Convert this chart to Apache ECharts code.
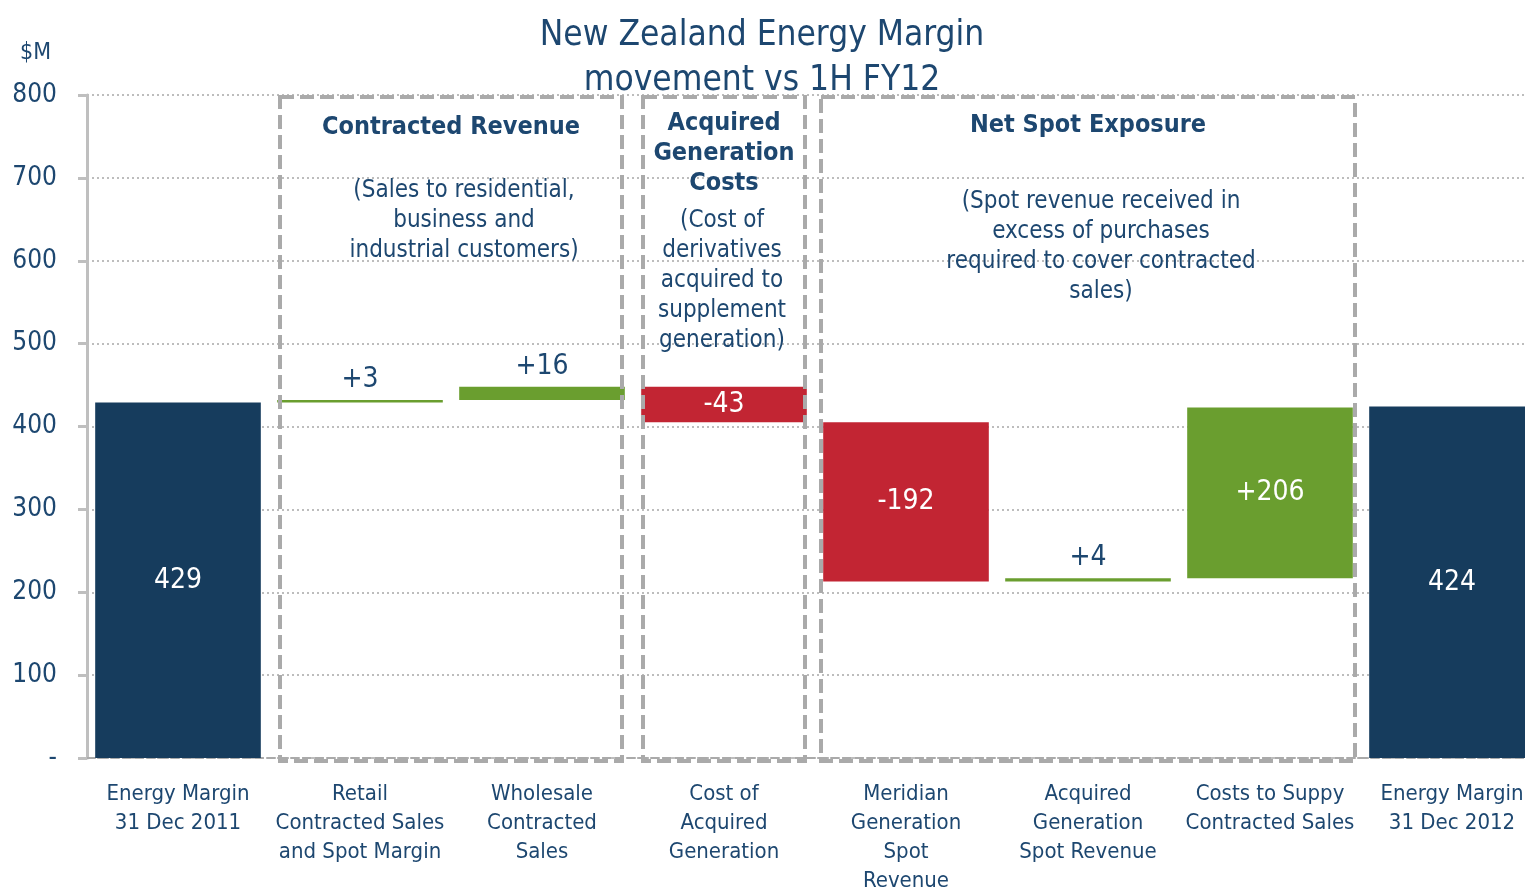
<!DOCTYPE html>
<html>
<head>
<meta charset="utf-8">
<script src="https://cdn.jsdelivr.net/npm/echarts@6/dist/echarts.min.js"></script>
<style>
  html, body { margin: 0; padding: 0; background: #fff; }
  #chart { width: 1525px; height: 892px; }
</style>
</head>
<body>
<div id="chart"></div>
<script>
// data
var categories = [
  'Energy Margin\n31 Dec 2011',
  'Retail\nContracted Sales\nand Spot Margin',
  'Wholesale\nContracted\nSales',
  'Cost of\nAcquired\nGeneration',
  'Meridian\nGeneration\nSpot\nRevenue',
  'Acquired\nGeneration\nSpot Revenue',
  'Costs to Suppy\nContracted Sales',
  'Energy Margin\n31 Dec 2012'
]
var deltas = [429, 3, 16, -43, -192, 4, 206, 424]
var isTotal = [true, false, false, false, false, false, false, true]
var barLabels = ['429', '+3', '+16', '-43', '-192', '+4', '+206', '424']

var font = '"Liberation Sans Narrow", "DejaVu Sans Condensed", sans-serif'
var navy = '#163c5d'
var textNavy = '#1d4770'
var green = '#6a9e2f'
var red = '#c22533'
var boxGrey = '#aaaaaa'

// waterfall: base (invisible) + visible height
var base = [], heights = [], running = 0
for (var i = 0; i < deltas.length; i++) {
  if (isTotal[i]) {
    base.push(0); heights.push(deltas[i]); running = deltas[i]
  } else if (deltas[i] >= 0) {
    base.push(running); heights.push(deltas[i]); running += deltas[i]
  } else {
    running += deltas[i]; base.push(running); heights.push(-deltas[i])
  }
}

var barData = heights.map(function (h, i) {
  var c = isTotal[i] ? navy : (deltas[i] >= 0 ? green : red)
  var inside = h > 30
  return {
    value: h,
    itemStyle: { color: c },
    label: {
      show: true,
      position: inside ? 'inside' : 'top',
      distance: 6,
      formatter: barLabels[i],
      color: inside ? '#ffffff' : textNavy,
      fontSize: 28,
      fontFamily: font
    }
  }
})

var myChart = echarts.init(document.getElementById('chart'))
var option = {
  animation: false,
  title: {
    text: 'New Zealand Energy Margin\nmovement vs 1H FY12',
    left: 757,
    top: 8,
    textAlign: 'center',
    textStyle: { color: textNavy, fontSize: 35, fontWeight: 'normal', fontFamily: font, lineHeight: 45 }
  },
  grid: { left: 87, top: 95, width: 1456, bottom: 134, outerBoundsMode: 'none', containLabel: false },
  xAxis: {
    type: 'category',
    data: categories,
    axisLine: { lineStyle: { color: boxGrey, width: 2, type: [8, 4] } },
    axisTick: { show: false },
    axisLabel: { color: textNavy, fontSize: 22, fontFamily: font, lineHeight: 29, margin: 22, interval: 0 }
  },
  yAxis: {
    type: 'value',
    min: 0,
    max: 800,
    interval: 100,
    name: '$M',
    nameLocation: 'end',
    nameGap: 30,
    nameTextStyle: { color: textNavy, fontSize: 23, fontFamily: font, align: 'right', padding: [0, 36, 0, 0] },
    axisLine: { show: true, lineStyle: { color: '#bfbfbf', width: 3 } },
    axisTick: { show: true, length: 9, lineStyle: { color: '#bfbfbf', width: 3 } },
    axisLabel: {
      color: textNavy, fontSize: 26, fontFamily: font, margin: 30,
      formatter: function (v) { return v === 0 ? '-' : String(v) }
    },
    splitLine: { lineStyle: { color: '#bdbdbd', type: [2, 3], width: 2 } }
  },
  series: [
    {
      type: 'bar',
      stack: 'w',
      data: base,
      itemStyle: { color: 'transparent' },
      silent: true,
      barCategoryGap: '9%'
    },
    {
      type: 'bar',
      stack: 'w',
      data: barData,
      barCategoryGap: '9%'
    }
  ]
}
myChart.setOption(option)

// annotation boxes and texts around category groups
var groups = [
  { from: 1, to: 2, pad: 80, title: 'Contracted Revenue', sub: '(Sales to residential,\nbusiness and\nindustrial customers)', titleY: 112, subY: 176, subDx: 13 },
  { from: 3, to: 3, pad: 81, title: 'Acquired\nGeneration\nCosts', sub: '(Cost of\nderivatives\nacquired to\nsupplement\ngeneration)', titleY: 108, subY: 206, subDx: -2 },
  { from: 4, to: 6, pad: 85, title: 'Net Spot Exposure', sub: '(Spot revenue received in\nexcess of purchases\nrequired to cover contracted\nsales)', titleY: 110, subY: 187, subDx: 13 }
]
var graphics = []
groups.forEach(function (g) {
  var x1 = myChart.convertToPixel({ xAxisIndex: 0 }, g.from) - g.pad
  var x2 = myChart.convertToPixel({ xAxisIndex: 0 }, g.to) + g.pad
  var y1 = myChart.convertToPixel({ yAxisIndex: 0 }, 800) + 2
  var y2 = myChart.convertToPixel({ yAxisIndex: 0 }, 0) + 3
  var cx = (x1 + x2) / 2
  graphics.push({
    type: 'rect', z: 5,
    shape: { x: x1, y: y1, width: x2 - x1, height: y2 - y1 },
    style: { fill: null, stroke: boxGrey, lineWidth: 4, lineDash: [14, 6] }
  })
  graphics.push({
    type: 'text', z: 6, x: cx, y: g.titleY,
    style: { text: g.title, fill: textNavy, font: 'bold 25px ' + font, align: 'center', verticalAlign: 'top', lineHeight: 30 }
  })
  graphics.push({
    type: 'text', z: 6, x: cx + g.subDx, y: g.subY,
    style: { text: g.sub, fill: textNavy, font: '24px ' + font, align: 'center', verticalAlign: 'top', lineHeight: 30 }
  })
})
myChart.setOption({ graphic: graphics })

window.addEventListener('resize', function () { myChart.resize() })
</script>
</body>
</html>
